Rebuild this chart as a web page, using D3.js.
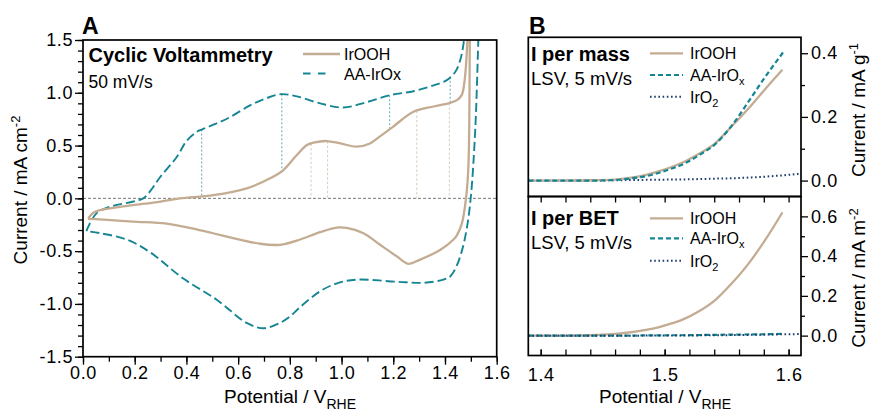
<!DOCTYPE html>
<html><head><meta charset="utf-8">
<script src="https://cdn.jsdelivr.net/npm/d3@7"></script>
<style>
body{margin:0;background:#fff}
text{font-family:"Liberation Sans",Arial,Helvetica,sans-serif;fill:#000}
</style>
</head><body>
<svg id="chart" width="873" height="414"></svg>
<script>
// ---------- DATA ----------
// Panel A: cyclic voltammetry (potential V vs RHE, current mA cm^-2)
const irOOH_anodicV = [0.020,0.040,0.066,0.130,0.194,0.300,0.375,0.504,0.633,0.724,0.775,0.827,0.866,0.891,0.943,0.995,1.059,1.110,1.150,1.200,1.278,1.356,1.420,1.446,1.465,1.475,1.481,1.487,1.492];
const irOOH_anodicI = [-0.190,-0.136,-0.112,-0.085,-0.064,-0.030,0.000,0.030,0.095,0.190,0.268,0.410,0.505,0.527,0.543,0.520,0.490,0.520,0.590,0.680,0.820,0.870,0.905,0.930,0.980,1.100,1.250,1.500,1.700];
const irOOH_cathodicV = [1.497,1.496,1.491,1.482,1.465,1.446,1.433,1.381,1.304,1.258,1.214,1.149,1.085,1.020,0.988,0.917,0.840,0.762,0.685,0.450,0.324,0.194,0.066,0.020];
const irOOH_cathodicI = [1.700,1.500,0.330,0.015,-0.240,-0.350,-0.390,-0.490,-0.580,-0.620,-0.550,-0.440,-0.330,-0.280,-0.275,-0.320,-0.390,-0.440,-0.430,-0.300,-0.240,-0.220,-0.200,-0.195];
const aa_anodicV = [0.013,0.020,0.053,0.104,0.195,0.233,0.262,0.298,0.362,0.401,0.440,0.459,0.517,0.569,0.646,0.711,0.765,0.827,0.917,1.007,1.098,1.188,1.278,1.356,1.407,1.440,1.459,1.472,1.480];
const aa_anodicI = [-0.310,-0.270,-0.140,-0.080,-0.030,0.000,0.075,0.200,0.390,0.545,0.630,0.652,0.710,0.770,0.880,0.950,0.987,0.966,0.900,0.860,0.912,0.978,1.015,1.070,1.120,1.200,1.310,1.470,1.700];
const aa_cathodicV = [1.532,1.529,1.517,1.500,1.484,1.465,1.445,1.420,1.394,1.317,1.214,1.059,0.988,0.917,0.840,0.800,0.762,0.698,0.633,0.517,0.388,0.259,0.169,0.066,0.013];
const aa_cathodicI = [1.700,1.500,0.650,0.015,-0.290,-0.500,-0.640,-0.740,-0.770,-0.800,-0.790,-0.770,-0.800,-0.880,-1.030,-1.120,-1.180,-1.230,-1.180,-0.960,-0.760,-0.510,-0.390,-0.330,-0.310];
const tealDropV = [0.459,0.769,1.186,1.420];
const brownDropV = [0.882,0.946,1.291,1.417];
const xTicksA = [0,0.2,0.4,0.6,0.8,1.0,1.2,1.4,1.6];
const yTicksA = [-1.5,-1.0,-0.5,0.0,0.5,1.0,1.5];

// Panel B: LSV, 5 mV/s
const lsvV_IrOOH = [1.390,1.420,1.440,1.460,1.473,1.485,1.495,1.505,1.514,1.527,1.541,1.554,1.568,1.581,1.595];
const mass_IrOOH = [0,0,0.001,0.003,0.009,0.018,0.029,0.042,0.056,0.083,0.118,0.170,0.228,0.287,0.348];
const lsvV_AA = [1.390,1.420,1.440,1.460,1.473,1.485,1.495,1.505,1.514,1.527,1.541,1.554,1.568,1.581,1.596];
const mass_AA = [0,0,0,0.002,0.007,0.014,0.024,0.037,0.050,0.078,0.115,0.172,0.250,0.325,0.405];
const lsvV_IrO2 = [1.390,1.420,1.440,1.460,1.480,1.500,1.520,1.540,1.560,1.570,1.580,1.590,1.600,1.610];
const mass_IrO2 = [0,0,0,0.001,0.002,0.003,0.004,0.006,0.008,0.010,0.012,0.015,0.018,0.022];
const bet_IrOOH = [0,0,0.002,0.009,0.017,0.029,0.042,0.060,0.079,0.120,0.180,0.262,0.365,0.480,0.620];
const bet_AA = [0,0,0,0,0,0.001,0.001,0.002,0.002,0.003,0.004,0.005,0.006,0.007,0.009];
const bet_IrO2 = [0,0,0,0,0,0.001,0.001,0.002,0.003,0.004,0.005,0.006,0.007,0.008];
const xTicksB = [1.4,1.5,1.6];
const yTicksB1 = [0,0.2,0.4];
const yTicksB2 = [0,0.2,0.4,0.6];

// ---------- STYLE ----------
const BROWN = "#c4ac93", TEAL = "#148592", NAVY = "#1d3d6d";
const BROWN_L = "#dccbb9", TEAL_L = "#4aa0ab";
const TICK_FS = 18, TITLE_FS = 19;

const svg = d3.select("#chart");
const zip = (a,b) => a.map((v,i)=>[v,b[i]]);

// ---------- PANEL A ----------
const xA = d3.scaleLinear().domain([0,1.6]).range([83,496.7]);
const yA = d3.scaleLinear().domain([-1.5,1.5]).range([356.7,40]);

svg.append("clipPath").attr("id","clipA").append("rect")
  .attr("x",83).attr("y",40).attr("width",413.7).attr("height",316.7);
const gA = svg.append("g");
const plotA = gA.append("g").attr("clip-path","url(#clipA)");

const brownAn = d3.scaleLinear().domain(irOOH_anodicV).range(irOOH_anodicI);
const tealAn = d3.scaleLinear().domain(aa_anodicV).range(aa_anodicI);

// drop lines
plotA.selectAll(".tdrop").data(tealDropV).join("line")
  .attr("x1",d=>xA(d)).attr("x2",d=>xA(d))
  .attr("y1",d=>yA(tealAn(d))).attr("y2",d=>yA(Math.max(brownAn(d),0)))
  .attr("stroke",TEAL_L).attr("stroke-width",0.9).attr("stroke-dasharray","2,2");
plotA.selectAll(".bdrop").data(brownDropV).join("line")
  .attr("x1",d=>xA(d)).attr("x2",d=>xA(d))
  .attr("y1",d=>yA(brownAn(d))).attr("y2",yA(0))
  .attr("stroke",BROWN_L).attr("stroke-width",1).attr("stroke-dasharray","2.5,2");
// zero line
plotA.append("line").attr("x1",xA(0)).attr("x2",xA(1.6)).attr("y1",yA(0)).attr("y2",yA(0))
  .attr("stroke","#555").attr("stroke-width",0.8).attr("stroke-dasharray","3,2");

const lineA = d3.line().x(d=>xA(d[0])).y(d=>yA(d[1])).curve(d3.curveCatmullRom.alpha(0.5));
const aaLoop = zip(aa_anodicV,aa_anodicI).concat(zip(aa_cathodicV,aa_cathodicI));
const irLoop = zip(irOOH_anodicV,irOOH_anodicI).concat(zip(irOOH_cathodicV,irOOH_cathodicI));
plotA.append("path").attr("d",lineA(aaLoop)).attr("fill","none")
  .attr("stroke",TEAL).attr("stroke-width",1.9).attr("stroke-dasharray","9,4");
plotA.append("path").attr("d",lineA(irLoop)).attr("fill","none")
  .attr("stroke",BROWN).attr("stroke-width",2.3);

// axes A
const fmt1 = d => d.toFixed(1);
function styleAxis(g, fs){
  g.select(".domain").remove();
  g.selectAll(".tick line").attr("stroke","#000").attr("stroke-width",1.3);
  g.selectAll(".tick text").attr("font-size",fs).attr("font-family",null).attr("fill","#000")
    .attr("letter-spacing",0.6);
}
const minorA_y = d3.range(-15,16).map(d=>d/10);
const minorA_x = d3.range(0,17).map(d=>d/10);
gA.append("g").attr("transform","translate(83,0)")
  .call(d3.axisLeft(yA).tickValues(minorA_y).tickSize(5).tickFormat(""))
  .call(g=>styleAxis(g,TICK_FS));
gA.append("g").attr("transform","translate(83,0)")
  .call(d3.axisLeft(yA).tickValues(yTicksA).tickSize(8).tickPadding(2).tickFormat(fmt1))
  .call(g=>styleAxis(g,TICK_FS));
gA.append("g").attr("transform","translate(0,356.7)")
  .call(d3.axisBottom(xA).tickValues(minorA_x).tickSize(5).tickFormat(""))
  .call(g=>styleAxis(g,TICK_FS));
gA.append("g").attr("transform","translate(0,356.7)")
  .call(d3.axisBottom(xA).tickValues(xTicksA).tickSize(8).tickPadding(2).tickFormat(fmt1))
  .call(g=>styleAxis(g,TICK_FS));
gA.append("rect").attr("x",83).attr("y",40).attr("width",413.7).attr("height",316.7)
  .attr("fill","none").attr("stroke","#000").attr("stroke-width",1.7);

// texts A
svg.append("text").attr("x",82).attr("y",34).attr("font-size",23).attr("font-weight","bold").text("A");
svg.append("text").attr("x",88.5).attr("y",62).attr("font-size",20).attr("font-weight","bold").text("Cyclic Voltammetry");
svg.append("text").attr("x",88.5).attr("y",88).attr("font-size",17.5).text("50 mV/s");
// legend A
svg.append("line").attr("x1",303).attr("x2",340).attr("y1",54).attr("y2",54).attr("stroke",BROWN).attr("stroke-width",2.3);
svg.append("line").attr("x1",303).attr("x2",326).attr("y1",73.5).attr("y2",73.5).attr("stroke",TEAL).attr("stroke-width",1.9).attr("stroke-dasharray","7.5,7.5");
svg.append("text").attr("x",344).attr("y",60).attr("font-size",16).text("IrOOH");
svg.append("text").attr("x",344).attr("y",79.5).attr("font-size",16).text("AA-IrOx");
// axis titles A
const tA = svg.append("text").attr("x",290).attr("y",403).attr("text-anchor","middle").attr("font-size",TITLE_FS);
tA.append("tspan").text("Potential / V");
tA.append("tspan").attr("dy",6).attr("font-size",14).text("RHE");
const yTA = svg.append("text").attr("transform","translate(27,190) rotate(-90)").attr("text-anchor","middle").attr("font-size",TITLE_FS);
yTA.append("tspan").text("Current / mA cm");
yTA.append("tspan").attr("dy",-7).attr("font-size",13).text("-2");

// ---------- PANEL B ----------
const xB = d3.scaleLinear().domain([1.39,1.61]).range([528.3,801]);
const yB1 = d3.scaleLinear().domain([-0.05,0.45]).range([196.5,37.3]);
const yB2 = d3.scaleLinear().domain([-0.1,0.7]).range([355.5,196.5]);

function lsvPanel(id, yS, top, bottom, series, yTicks, minorTicks){
  svg.append("clipPath").attr("id",id).append("rect")
    .attr("x",528.3).attr("y",top).attr("width",272.7).attr("height",bottom-top);
  const g = svg.append("g");
  const p = g.append("g").attr("clip-path",`url(#${id})`);
  const ln = d3.line().x(d=>xB(d[0])).y(d=>yS(d[1])).curve(d3.curveMonotoneX);
  series.forEach(s=>{
    p.append("path").attr("d",ln(zip(s.v,s.i))).attr("fill","none")
      .attr("stroke",s.c).attr("stroke-width",s.w).attr("stroke-dasharray",s.dash);
  });
  g.append("g").attr("transform","translate(801,0)")
    .call(d3.axisRight(yS).tickValues(minorTicks).tickSize(4).tickFormat(""))
    .call(gg=>styleAxis(gg,TICK_FS));
  g.append("g").attr("transform","translate(801,0)")
    .call(d3.axisRight(yS).tickValues(yTicks).tickSize(7).tickPadding(3).tickFormat(fmt1))
    .call(gg=>styleAxis(gg,TICK_FS));
  g.append("rect").attr("x",528.3).attr("y",top).attr("width",272.7).attr("height",bottom-top)
    .attr("fill","none").attr("stroke","#000").attr("stroke-width",1.7);
  return g;
}
lsvPanel("clipB1", yB1, 37.3, 196.5, [
  {v:lsvV_IrO2, i:mass_IrO2, c:NAVY, w:2, dash:"1.6,2.6"},
  {v:lsvV_IrOOH, i:mass_IrOOH, c:BROWN, w:2.3, dash:null},
  {v:lsvV_AA, i:mass_AA, c:TEAL, w:2.2, dash:"5,3"}
], yTicksB1, [0.1,0.3]);
lsvPanel("clipB2", yB2, 196.5, 355.5, [
  {v:lsvV_IrOOH, i:bet_IrOOH, c:BROWN, w:2.3, dash:null},
  {v:lsvV_AA, i:bet_AA, c:TEAL, w:2.2, dash:"5,3"},
  {v:lsvV_IrO2, i:bet_IrO2, c:NAVY, w:2, dash:"1.6,2.6"}
], yTicksB2, [0.1,0.3,0.5]);

// x ticks of B (inward) on shared border and bottom
const minorB_x = d3.range(140,161,2).map(d=>d/100);
svg.append("g").attr("transform","translate(0,196.5)")
  .call(d3.axisTop(xB).tickValues(minorB_x).tickSize(-6).tickFormat(""))
  .call(g=>styleAxis(g,TICK_FS));
svg.append("g").attr("transform","translate(0,355.5)")
  .call(d3.axisBottom(xB).tickValues(minorB_x).tickSize(-6).tickFormat(""))
  .call(g=>styleAxis(g,TICK_FS));
svg.append("g").attr("transform","translate(0,355.5)")
  .call(d3.axisBottom(xB).tickValues(xTicksB).tickSize(-6).tickPadding(13).tickFormat(fmt1))
  .call(g=>styleAxis(g,TICK_FS));

// texts B
svg.append("text").attr("x",529).attr("y",34).attr("font-size",23).attr("font-weight","bold").text("B");
function bLabels(title, y0, legY){
  svg.append("text").attr("x",531).attr("y",y0).attr("font-size",20).attr("font-weight","bold").text(title);
  svg.append("text").attr("x",531).attr("y",y0+24).attr("font-size",18.5).text("LSV, 5 mV/s");
  svg.append("line").attr("x1",650).attr("x2",683).attr("y1",legY[0]).attr("y2",legY[0]).attr("stroke",BROWN).attr("stroke-width",2.3);
  svg.append("line").attr("x1",650).attr("x2",683).attr("y1",legY[1]).attr("y2",legY[1]).attr("stroke",TEAL).attr("stroke-width",2.2).attr("stroke-dasharray","5,3");
  svg.append("line").attr("x1",650).attr("x2",683).attr("y1",legY[2]).attr("y2",legY[2]).attr("stroke",NAVY).attr("stroke-width",2).attr("stroke-dasharray","1.6,2.6");
  svg.append("text").attr("x",690).attr("y",legY[0]+6).attr("font-size",16).text("IrOOH");
  const t2 = svg.append("text").attr("x",690).attr("y",legY[1]+6).attr("font-size",16);
  t2.append("tspan").text("AA-IrO"); t2.append("tspan").attr("dy",4).attr("font-size",11).text("x");
  const t3 = svg.append("text").attr("x",690).attr("y",legY[2]+6).attr("font-size",16);
  t3.append("tspan").text("IrO"); t3.append("tspan").attr("dy",4).attr("font-size",11).text("2");
}
bLabels("I per mass", 61, [53.3,75,96.7]);
bLabels("I per BET", 225, [218.3,238.3,260.7]);

const tB = svg.append("text").attr("x",665).attr("y",403).attr("text-anchor","middle").attr("font-size",TITLE_FS);
tB.append("tspan").text("Potential / V");
tB.append("tspan").attr("dy",6).attr("font-size",14).text("RHE");
const yB1T = svg.append("text").attr("transform","translate(865,110) rotate(-90)").attr("text-anchor","middle").attr("font-size",TITLE_FS);
yB1T.append("tspan").text("Current / mA g");
yB1T.append("tspan").attr("dy",-7).attr("font-size",13).text("-1");
const yB2T = svg.append("text").attr("transform","translate(865,278) rotate(-90)").attr("text-anchor","middle").attr("font-size",TITLE_FS);
yB2T.append("tspan").text("Current / mA m");
yB2T.append("tspan").attr("dy",-7).attr("font-size",13).text("-2");
</script>
</body></html>
